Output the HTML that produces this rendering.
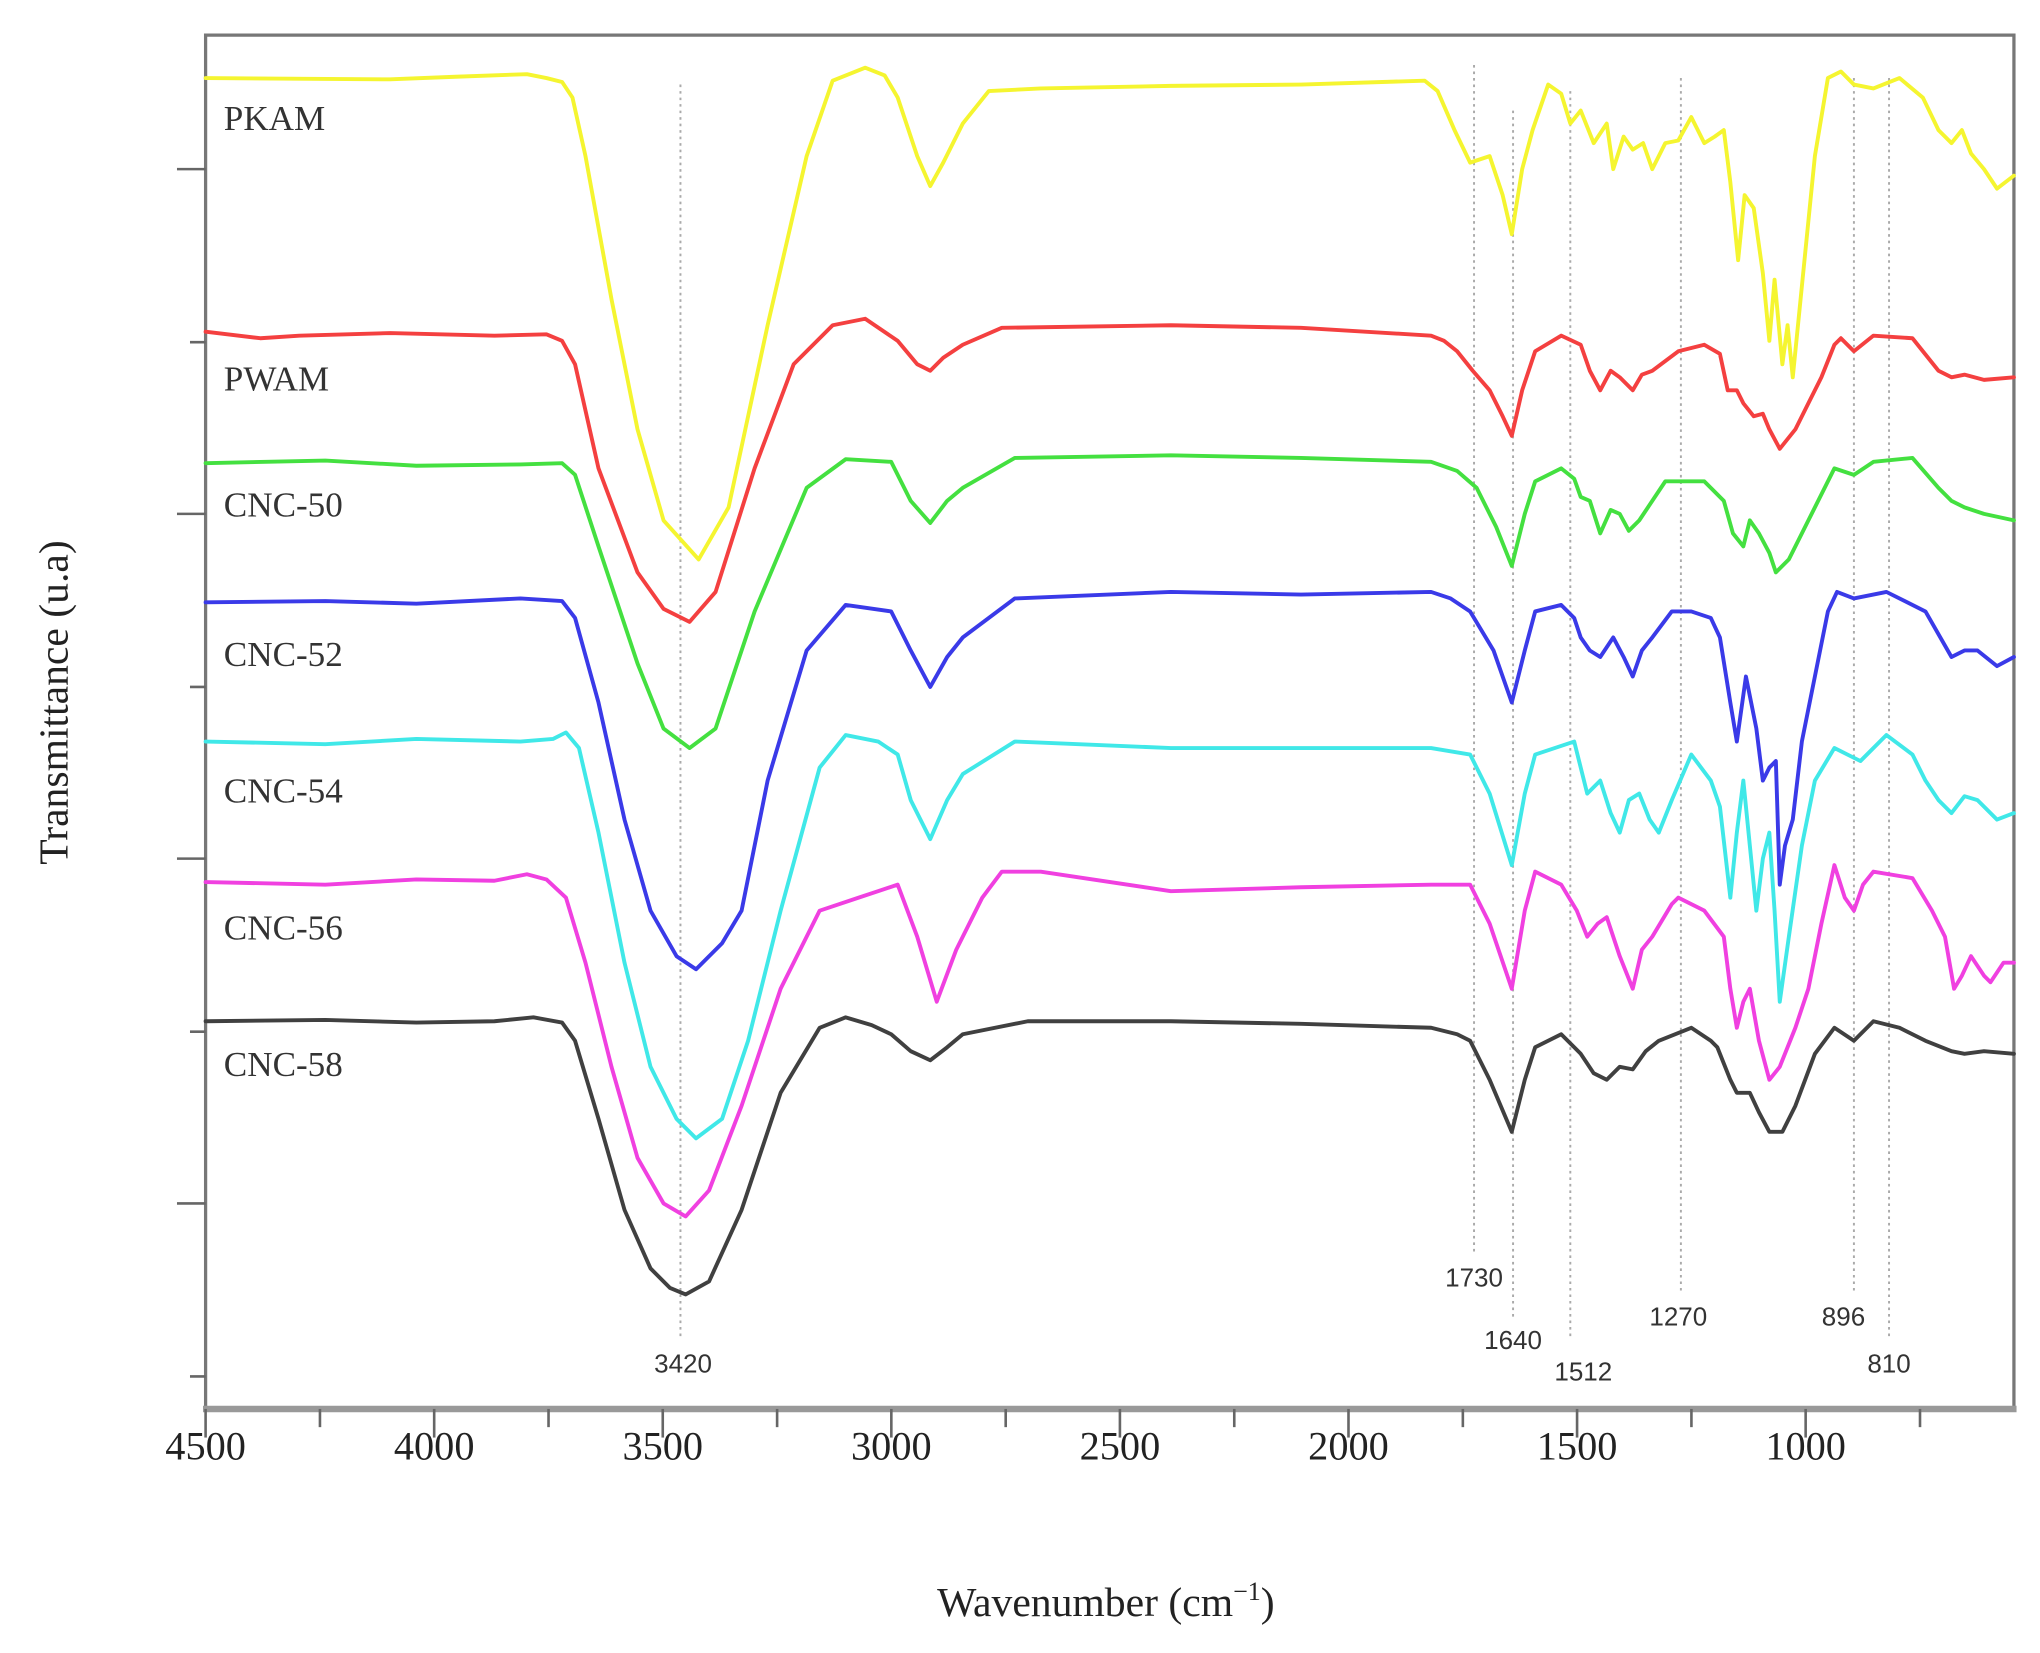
<!DOCTYPE html>
<html><head><meta charset="utf-8"><style>html,body{margin:0;padding:0;background:#fff}svg{display:block}</style></head>
<body>
<svg width="2040" height="1653" viewBox="0 0 1568 1270.6" xmlns="http://www.w3.org/2000/svg" font-family="'Liberation Serif',serif">
<rect x="0" y="0" width="1568" height="1270.6" fill="#fff"/>
<!-- frame -->
<path d="M158 1083 V27 H1548 V1083" fill="none" stroke="#777" stroke-width="2.5"/>
<line x1="156" y1="1083" x2="1550" y2="1083" stroke="#999" stroke-width="5"/>
<!-- y ticks -->
<g stroke="#666" stroke-width="2">
<line x1="136" y1="130" x2="158" y2="130"/><line x1="136" y1="395" x2="158" y2="395"/><line x1="136" y1="660" x2="158" y2="660"/><line x1="136" y1="925" x2="158" y2="925"/>
<line x1="146" y1="263" x2="158" y2="263"/><line x1="146" y1="528" x2="158" y2="528"/><line x1="146" y1="793" x2="158" y2="793"/><line x1="146" y1="1058" x2="158" y2="1058"/>
</g>
<!-- x ticks -->
<g stroke="#666" stroke-width="2">
<line x1="158" y1="1083" x2="158" y2="1105"/><line x1="333.7" y1="1083" x2="333.7" y2="1105"/><line x1="509.4" y1="1083" x2="509.4" y2="1105"/><line x1="685.1" y1="1083" x2="685.1" y2="1105"/><line x1="860.8" y1="1083" x2="860.8" y2="1105"/><line x1="1036.5" y1="1083" x2="1036.5" y2="1105"/><line x1="1212.2" y1="1083" x2="1212.2" y2="1105"/><line x1="1387.9" y1="1083" x2="1387.9" y2="1105"/>
<line x1="245.9" y1="1083" x2="245.9" y2="1097"/><line x1="421.6" y1="1083" x2="421.6" y2="1097"/><line x1="597.3" y1="1083" x2="597.3" y2="1097"/><line x1="773" y1="1083" x2="773" y2="1097"/><line x1="948.7" y1="1083" x2="948.7" y2="1097"/><line x1="1124.4" y1="1083" x2="1124.4" y2="1097"/><line x1="1300.1" y1="1083" x2="1300.1" y2="1097"/><line x1="1475.8" y1="1083" x2="1475.8" y2="1097"/>
</g>
<g font-size="31" fill="#222" text-anchor="middle">
<text x="158" y="1122">4500</text><text x="333.7" y="1122">4000</text><text x="509.4" y="1122">3500</text><text x="685.1" y="1122">3000</text><text x="860.8" y="1122">2500</text><text x="1036.5" y="1122">2000</text><text x="1212.2" y="1122">1500</text><text x="1387.9" y="1122">1000</text>
</g>
<text x="850" y="1242" font-size="32" text-anchor="middle" fill="#222">Wavenumber (cm<tspan dy="-12" font-size="20">−1</tspan><tspan dy="12">)</tspan></text>
<text transform="translate(52,540) rotate(-90)" font-size="32" text-anchor="middle" fill="#222">Transmittance (u.a)</text>
<!-- dotted refs -->
<g stroke="#aaa" stroke-width="1.5" stroke-dasharray="2,3">
<line x1="523" y1="65" x2="523" y2="1030"/><line x1="1133" y1="50" x2="1133" y2="962"/><line x1="1163" y1="85" x2="1163" y2="1015"/><line x1="1207" y1="70" x2="1207" y2="1030"/><line x1="1292" y1="60" x2="1292" y2="995"/><line x1="1425" y1="60" x2="1425" y2="995"/><line x1="1452" y1="60" x2="1452" y2="1030"/>
</g>
<g font-family="'Liberation Sans',sans-serif" font-size="20" fill="#333" text-anchor="middle">
<text x="525" y="1055">3420</text><text x="1133" y="989">1730</text><text x="1163" y="1037">1640</text><text x="1217" y="1061">1512</text><text x="1290" y="1019">1270</text><text x="1417" y="1019">896</text><text x="1452" y="1055">810</text>
</g>
<g font-size="27" fill="#333">
<text x="172" y="100">PKAM</text><text x="172" y="300">PWAM</text><text x="172" y="397">CNC-50</text><text x="172" y="512">CNC-52</text><text x="172" y="617">CNC-54</text><text x="172" y="722">CNC-56</text><text x="172" y="827">CNC-58</text>
</g>
<g fill="none" stroke-width="3" stroke-linejoin="round" stroke-linecap="round">
<polyline stroke="#f5f530" points="158,60 300,61 350,59 405,57 420,60 432,63 440,75 450,120 470,230 490,330 510,400 537,430 560,390 590,250 620,120 640,62 665,52 680,58 690,75 705,120 715,143 725,125 740,95 760,70 800,68 900,66 1000,65 1095,62 1105,70 1118,100 1130,125 1145,120 1155,150 1162,180 1170,130 1178,100 1190,65 1200,72 1207,95 1215,85 1225,110 1235,95 1240,130 1248,105 1255,115 1263,110 1270,130 1280,110 1290,108 1300,90 1310,110 1318,105 1325,100 1330,140 1336,200 1341,150 1348,160 1355,210 1360,262 1364,215 1370,280 1374,250 1378,290 1385,220 1395,120 1405,60 1415,55 1425,65 1440,68 1460,60 1478,75 1490,100 1500,110 1508,100 1515,118 1525,130 1535,145 1548,135"/>
<polyline stroke="#f44040" points="158,255 200,260 230,258 300,256 380,258 420,257 432,262 442,280 460,360 490,440 510,468 530,478 550,455 580,360 610,280 640,250 665,245 690,262 705,280 715,285 725,275 740,265 770,252 900,250 1000,252 1100,258 1110,262 1120,270 1132,285 1145,300 1155,320 1162,335 1170,300 1180,270 1200,258 1215,265 1222,285 1230,300 1238,285 1245,290 1255,300 1262,288 1270,285 1290,270 1310,265 1322,272 1328,300 1335,300 1340,310 1348,320 1355,318 1360,330 1368,345 1380,330 1390,310 1400,290 1410,265 1415,260 1425,270 1440,258 1470,260 1490,285 1500,290 1510,288 1525,292 1548,290"/>
<polyline stroke="#44e040" points="158,356 250,354 320,358 400,357 432,356 442,365 460,420 490,510 510,560 530,575 550,560 580,470 620,375 650,353 685,355 700,385 715,402 728,385 740,375 780,352 900,350 1000,352 1100,355 1120,362 1135,375 1150,405 1162,435 1172,395 1180,370 1200,360 1210,368 1215,382 1222,385 1230,410 1238,392 1245,395 1252,408 1260,400 1280,370 1310,370 1320,380 1325,385 1332,410 1340,420 1345,400 1352,410 1360,425 1365,440 1375,430 1385,410 1395,390 1410,360 1425,365 1440,355 1470,352 1490,375 1500,385 1510,390 1525,395 1548,400"/>
<polyline stroke="#3a3ae8" points="158,463 250,462 320,464 400,460 432,462 442,475 460,540 480,630 500,700 520,735 535,745 555,725 570,700 590,600 620,500 650,465 685,470 700,500 715,528 728,505 740,490 780,460 900,455 1000,457 1100,455 1115,460 1130,470 1148,500 1162,540 1172,500 1180,470 1200,465 1210,475 1215,490 1222,500 1230,505 1240,490 1248,505 1255,520 1262,500 1270,490 1285,470 1300,470 1315,475 1322,490 1330,540 1335,570 1342,520 1350,560 1355,600 1360,590 1365,585 1368,680 1372,650 1378,630 1385,570 1395,520 1405,470 1412,455 1425,460 1450,455 1480,470 1500,505 1510,500 1520,500 1535,512 1548,505"/>
<polyline stroke="#40e8e8" points="158,570 250,572 320,568 400,570 425,568 435,563 445,575 460,640 480,740 500,820 520,860 535,875 555,860 575,800 600,700 630,590 650,565 675,570 690,580 700,615 715,645 728,615 740,595 780,570 900,575 1000,575 1100,575 1130,580 1145,610 1162,665 1172,610 1180,580 1210,570 1215,590 1220,610 1230,600 1238,625 1245,640 1252,615 1260,610 1268,630 1275,640 1285,615 1300,580 1315,600 1322,620 1330,690 1335,640 1340,600 1345,650 1350,700 1355,660 1360,640 1364,700 1368,770 1375,720 1385,650 1395,600 1410,575 1430,585 1450,565 1470,580 1480,600 1490,615 1500,625 1510,612 1520,615 1535,630 1548,625"/>
<polyline stroke="#f040e0" points="158,678 250,680 320,676 380,677 405,672 420,676 435,690 450,740 470,820 490,890 510,925 527,935 545,915 570,850 600,760 630,700 660,690 690,680 705,720 720,770 735,730 755,690 770,670 800,670 900,685 1000,682 1100,680 1130,680 1145,710 1162,760 1172,700 1180,670 1200,680 1212,700 1220,720 1228,710 1235,705 1245,735 1255,760 1262,730 1270,720 1285,695 1290,690 1310,700 1325,720 1330,760 1335,790 1340,770 1345,760 1352,800 1360,830 1368,820 1380,790 1390,760 1400,710 1410,665 1418,690 1425,700 1432,680 1440,670 1470,675 1485,700 1495,720 1502,760 1508,750 1515,735 1525,750 1530,755 1540,740 1548,740"/>
<polyline stroke="#404040" points="158,785 250,784 320,786 380,785 410,782 432,786 442,800 460,860 480,930 500,975 515,990 527,995 545,985 570,930 600,840 630,790 650,782 670,788 685,795 700,808 715,815 728,805 740,795 790,785 900,785 1000,787 1100,790 1120,795 1130,800 1145,830 1162,870 1172,830 1180,805 1200,795 1215,810 1225,825 1235,830 1245,820 1255,822 1265,808 1275,800 1300,790 1315,800 1320,805 1330,830 1335,840 1345,840 1352,855 1360,870 1370,870 1380,850 1395,810 1410,790 1425,800 1440,785 1460,790 1480,800 1500,808 1510,810 1525,808 1548,810"/>
</g>
</svg>
</body></html>
